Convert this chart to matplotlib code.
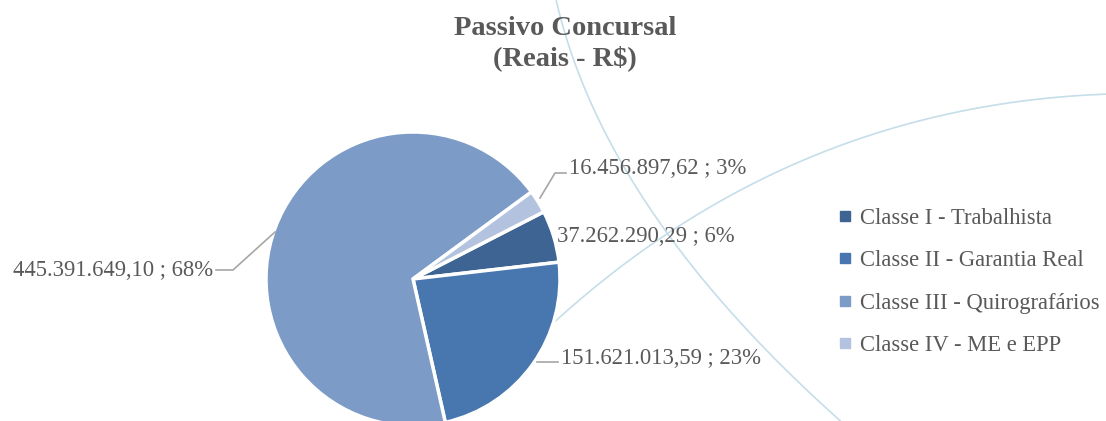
import matplotlib

matplotlib.use("Agg")
import matplotlib.pyplot as plt
import numpy as np
from matplotlib.lines import Line2D

# data
categories = [
    "Classe I - Trabalhista",
    "Classe II - Garantia Real",
    "Classe III - Quirografários",
    "Classe IV - ME e EPP",
]
values = [37262290.29, 151621013.59, 445391649.10, 16456897.62]
value_labels = ["37.262.290,29", "151.621.013,59", "445.391.649,10", "16.456.897,62"]
colors = ["#3E6494", "#4777AE", "#7D9BC7", "#B3C3DF"]

TEXT = "#595959"
W, H = 1106, 421
CX, CY, R = 413, 279, 147  # pie centre / radius in pixels


def px(x, y):
    # pixel (from top-left) -> data units of the pie axes
    return (x - CX) / R, (CY - y) / R


plt.rcParams["font.family"] = ["Liberation Serif", "DejaVu Serif"]

fig = plt.figure(figsize=(W / 100, H / 100), dpi=100)
ax = fig.add_axes([0, 0, 1, 1])

# decorative background arcs
def bezier(p0, c, p2, n=200):
    t = np.linspace(0, 1, n)[:, None]
    pts = (1 - t) ** 2 * np.array(p0) + 2 * (1 - t) * t * np.array(c) + t ** 2 * np.array(p2)
    return np.array([px(x, y) for x, y in pts])

for p0, c, p2 in [((555, -5), (602, 210), (845, 425)),
                  ((530, 345), (777, 105), (1110, 94))]:
    arc = bezier(p0, c, p2)
    ax.plot(arc[:, 0], arc[:, 1], color="#C5DEEA", lw=1.2, zorder=0)

total = sum(values)
wedges, _ = ax.pie(
    values,
    colors=colors,
    startangle=27.2,
    counterclock=False,
    radius=1,
    center=(0, 0),
    wedgeprops=dict(edgecolor="white", linewidth=2.5),
    frame=True,
)
ax.set_xlim(-CX / R, (W - CX) / R)
ax.set_ylim(-(H - CY) / R, CY / R)
ax.axis("off")

pct = [round(v / total * 100) for v in values]
labels = [f"{vl} ; {p}%" for vl, p in zip(value_labels, pct)]

# label placement (text anchor in pixels, leader path in pixels)
label_pos = [
    ((557, 236), "left", None),
    ((561, 358), "left", [(537, 362), (558, 362)]),
    ((213, 270), "right", [(275, 232), (233, 270), (216, 270)]),
    ((569, 168), "left", [(540, 198), (555, 173), (566, 173)]),
]
for lab, (pos, ha, path) in zip(labels, label_pos):
    tx, ty = px(*pos)
    ax.text(tx, ty, lab, ha=ha, va="center", fontsize=16.3, color=TEXT, zorder=5)
    if path:
        pts = np.array([px(x, y) for x, y in path])
        ax.plot(pts[:, 0], pts[:, 1], color="#A6A6A6", lw=1.2, zorder=4)

fig.text(565 / W, 1 - 44 / H, "Passivo Concursal\n(Reais - R$)", ha="center", va="center",
         fontsize=20.5, fontweight="bold", color=TEXT, linespacing=1.22)

handles = [Line2D([0], [0], marker="s", linestyle="none", markersize=7,
                  markerfacecolor=c, markeredgecolor=c) for c in colors]
fig.legend(handles, categories, loc="center left", bbox_to_anchor=(829 / W, 1 - 282 / H),
           frameon=False, fontsize=16.3, labelcolor=TEXT, handlelength=0.6,
           handletextpad=0.35, labelspacing=0.95, borderaxespad=0)

fig.savefig("out.png", dpi=100)
